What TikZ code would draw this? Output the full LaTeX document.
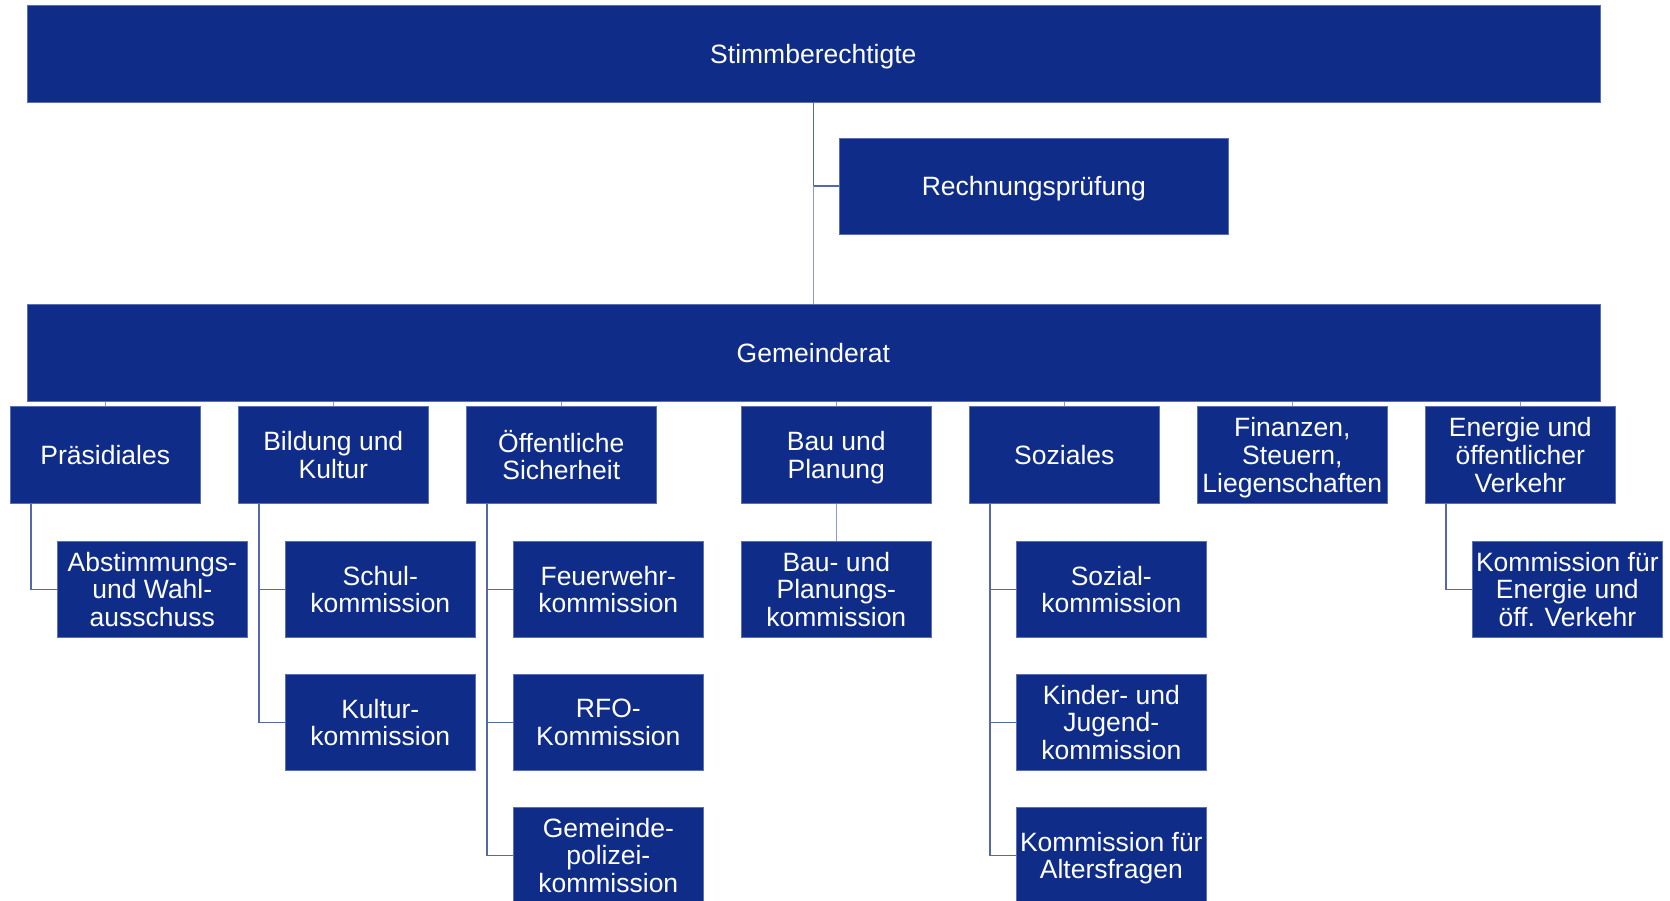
\documentclass[tikz,border=0pt]{standalone}
\usepackage{fontspec}
\setmainfont{Liberation Sans}
\definecolor{orgblue}{HTML}{0F2D88}
\definecolor{orgedge}{HTML}{5B6FB6}
\definecolor{orgline}{HTML}{5468AE}
\definecolor{orglight}{HTML}{8D9BCB}
\begin{document}
\begin{tikzpicture}[
    x=1pt, y=-1pt,
    box/.style={fill=orgblue, draw=orgedge, line width=0.6pt, text=white,
                align=center, inner sep=0pt, anchor=north west,
                text depth=0pt,
                font=\fontsize{26.5}{27.7}\selectfont},
    unit/.style={box, minimum width=190pt, minimum height=97pt},
    sub/.style={box, minimum width=190pt, minimum height=96pt},
    link/.style={draw=orgline, line width=1.6pt},
    lightlink/.style={link, draw=orglight}
  ]
  \useasboundingbox (0,0) rectangle (1670,901);
  % top level
  \node[box, minimum width=1573pt, minimum height=97pt] (stimm) at (26.5,5) {Stimmberechtigte};
  \node[box, minimum width=389pt, minimum height=96pt] (rech) at (839,138) {Rechnungsprüfung};
  \node[box, minimum width=1573pt, minimum height=97pt] (gemeinde) at (26.5,304) {Gemeinderat};
  \coordinate (junc) at (stimm.south |- rech.west);
  \draw[link] (stimm.south) -- (junc) -- (rech.west);
  \draw[lightlink] (junc) -- (gemeinde.north);
  % departments
  \foreach \nm/\x/\t in {praes/10/Präsidiales, bild/238/{Bildung und\\Kultur},
      sich/466/{Öffentliche\\Sicherheit}, bau/741/{Bau und\\Planung},
      soz/969/Soziales, fin/1197/{Finanzen,\\Steuern,\\Liegenschaften},
      ener/1425/{Energie und\\öffentlicher\\Verkehr}} {
    \node[unit] (\nm) at (\x,406) {\t};
    \draw[lightlink] (gemeinde.south -| \nm.north) -- (\nm.north);
  }
  % commissions
  \foreach \nm/\p/\x/\y/\t in {abst/praes/57/541/{Abstimmungs-\\und Wahl-\\ausschuss},
      schul/bild/285/541/{Schul-\\kommission}, kult/bild/285/674/{Kultur-\\kommission},
      feuer/sich/513/541/{Feuerwehr-\\kommission}, rfo/sich/513/674/{RFO-\\Kommission},
      pol/sich/513/807/{Gemeinde-\\polizei-\\kommission},
      sozk/soz/1016/541/{Sozial-\\kommission}, jug/soz/1016/674/{Kinder- und\\Jugend-\\kommission},
      alt/soz/1016/807/{Kommission für\\Altersfragen},
      enk/ener/1472/541/{Kommission für\\Energie und\\öff. Verkehr}} {
    \node[sub] (\nm) at (\x,\y) {\t};
    \draw[link] ([xshift=21pt]\p.south west) |- (\nm.west);
  }
  \node[sub] (bauk) at (741,541) {Bau- und\\Planungs-\\kommission};
  \draw[lightlink] (bau.south) -- (bauk.north);
\end{tikzpicture}
\end{document}
